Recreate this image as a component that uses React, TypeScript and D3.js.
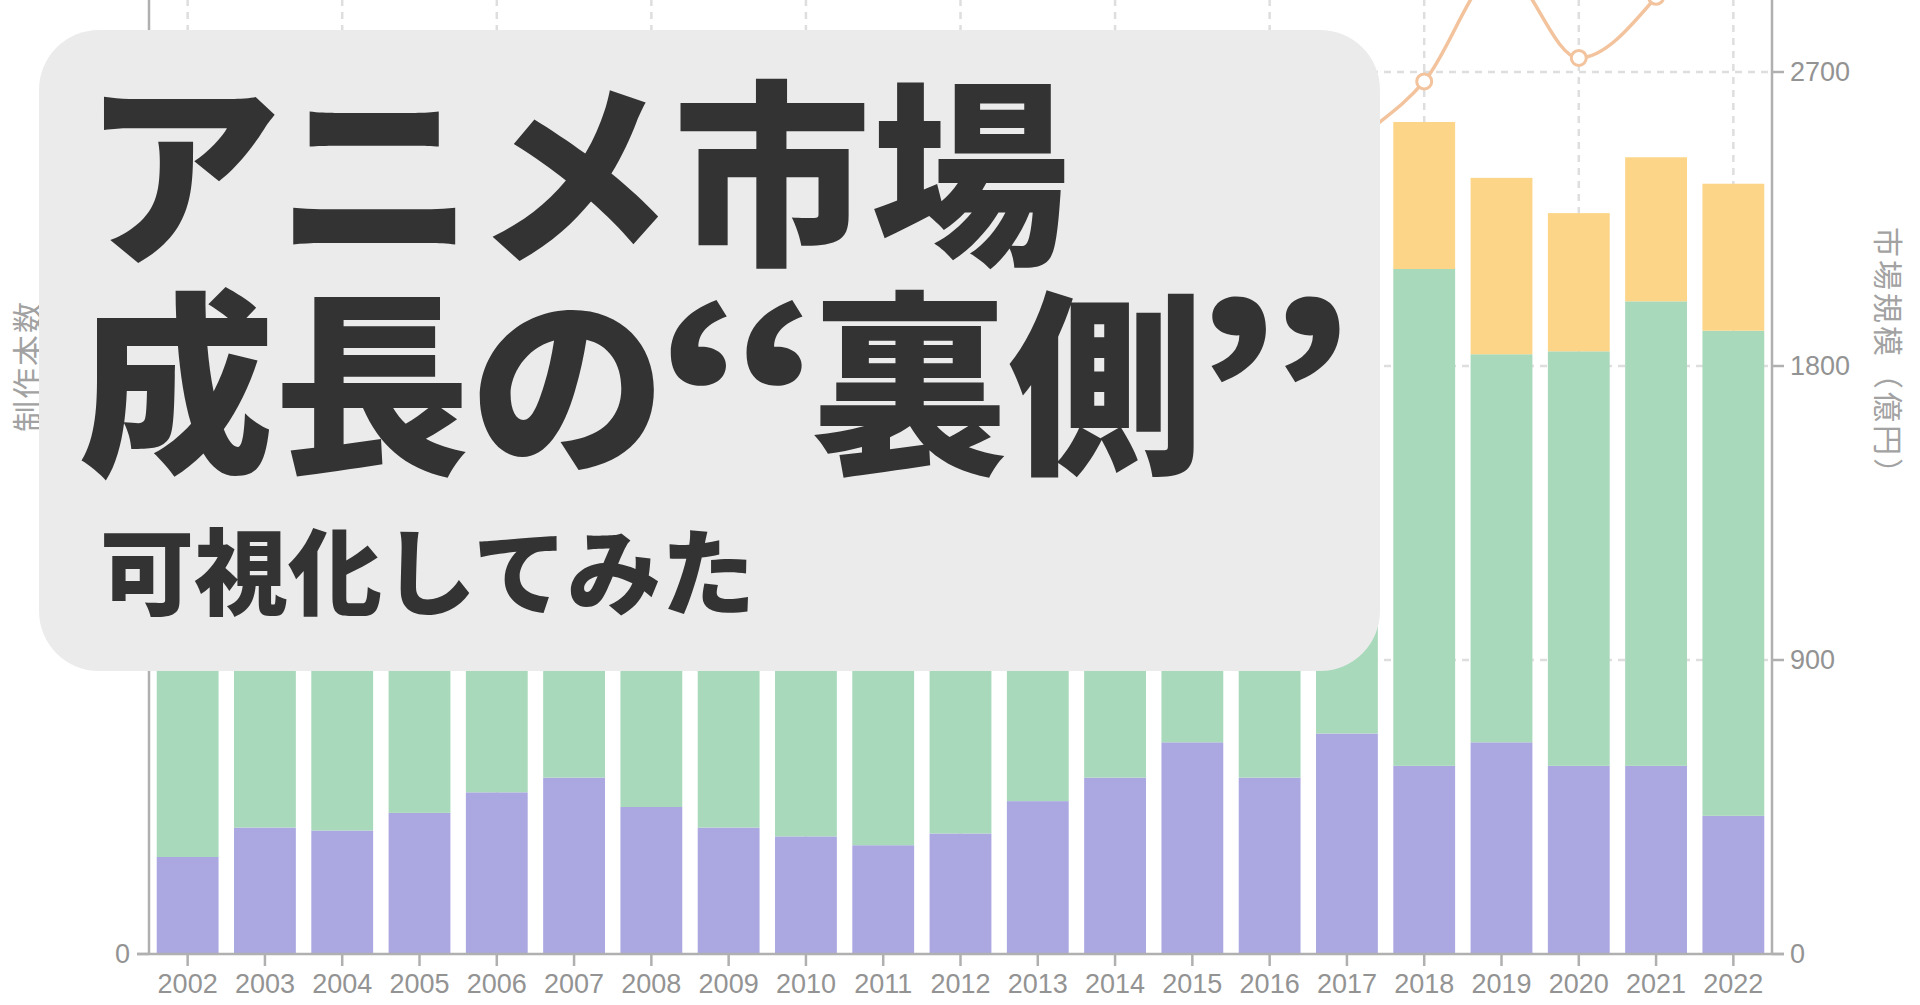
import React from "react";
import * as d3 from "d3";

// ---- data ----
const years = [
  "2002", "2003", "2004", "2005", "2006", "2007", "2008", "2009", "2010", "2011",
  "2012", "2013", "2014", "2015", "2016", "2017", "2018", "2019", "2020", "2021", "2022",
];
// bars (left axis, 制作本数)
const seriesPurple = [33, 43, 42, 48, 55, 60, 50, 43, 40, 37, 41, 52, 60, 72, 60, 75, 64, 72, 64, 64, 47];
const seriesGreen = [100, 105, 115, 120, 135, 140, 130, 125, 130, 140, 150, 150, 165, 165, 180, 175, 169, 132, 141, 158, 165];
const seriesYellow = [0, 0, 0, 0, 0, 0, 0, 0, 0, 0, 0, 0, 0, 0, 0, 0, 50, 60, 47, 49, 50];
// line (right axis, 市場規模 億円)
const marketSize = [1400, 1480, 1560, 1670, 1830, 1880, 1730, 1500, 1420, 1460, 1530, 1600, 1850, 2000, 2200, 2461, 2671, 3017, 2743, 2930, 3300];

const leftTicks = [0, 100, 200, 300, 400];
const rightTicks = [0, 900, 1800, 2700, 3600];
const gridYears = ["2002", "2004", "2006", "2008", "2010", "2012", "2014", "2016", "2018", "2020", "2022"];

const leftTitle = "制作本数";
const rightTitle = "市場規模（億円）";
const titleLine1 = "アニメ市場";
const titleLine2a = "成長の";
const titleLine2q1 = "“";
const titleLine2b = "裏側";
const titleLine2q2 = "”";
const titleLine3 = "可視化してみた";

const COLORS = {
  purple: "#aba8e1",
  green: "#a8d9bb",
  yellow: "#fdd588",
  line: "#f2c39c",
  grid: "#dedede",
  axis: "#b0b0b0",
  tick: "#939393",
  axisTitle: "#a2a2a2",
  panel: "#ebebeb",
  title: "#333333",
};

const W = 1920;
const H = 1005;
const PLOT = { left: 149, right: 1772, top: -222, bottom: 954 };

export default function App() {
  const x = d3
    .scaleBand<string>()
    .domain(years)
    .range([PLOT.left, PLOT.right])
    .paddingInner(0.2)
    .paddingOuter(0.1);
  const yL = d3.scaleLinear().domain([0, 400]).range([PLOT.bottom, PLOT.top]);
  const yR = d3.scaleLinear().domain([0, 3600]).range([PLOT.bottom, PLOT.top]);

  const rows = years.map((y, i) => ({
    year: y,
    purple: seriesPurple[i],
    green: seriesGreen[i],
    yellow: seriesYellow[i],
  }));
  const stacked = d3.stack<any>().keys(["purple", "green", "yellow"])(rows);
  const cx = (yr: string) => (x(yr) as number) + x.bandwidth() / 2;

  const lineGen = d3
    .line<number>()
    .x((_, i) => cx(years[i]))
    .y((d) => yR(d))
    .curve(d3.curveMonotoneX);

  const tickFont = "'Liberation Sans', Arial, sans-serif";
  const cjk = "'Noto Sans CJK JP', sans-serif";

  return (
    <div style={{ position: "fixed", left: 0, top: 0, width: W, height: H, background: "#fff" }}>
      <style>{`body{margin:0;background:#fff}`}</style>
      <svg width={W} height={H} viewBox={`0 0 ${W} ${H}`} style={{ display: "block", overflow: "hidden" }}>
        <rect x={0} y={0} width={W} height={H} fill="#ffffff" />
        {/* grid */}
        <g stroke={COLORS.grid} strokeWidth={2.5} strokeDasharray="7 6">
          {gridYears.map((yr) => (
            <line key={yr} x1={cx(yr)} x2={cx(yr)} y1={PLOT.top} y2={PLOT.bottom} />
          ))}
          {rightTicks.slice(1).map((t) => (
            <line key={t} x1={PLOT.left} x2={PLOT.right} y1={yR(t)} y2={yR(t)} />
          ))}
        </g>
        {/* bars */}
        {stacked.map((layer) => (
          <g key={layer.key} fill={(COLORS as any)[layer.key]}>
            {layer.map((d: any, i: number) =>
              d[1] - d[0] > 0 ? (
                <rect
                  key={i}
                  x={x(d.data.year)}
                  width={x.bandwidth()}
                  y={yL(d[1])}
                  height={yL(d[0]) - yL(d[1])}
                />
              ) : null
            )}
          </g>
        ))}
        {/* line */}
        <path d={lineGen(marketSize) || ""} fill="none" stroke={COLORS.line} strokeWidth={3.5} />
        {marketSize.map((v, i) => (
          <circle key={i} cx={cx(years[i])} cy={yR(v)} r={7.5} fill="#fff" stroke={COLORS.line} strokeWidth={3} />
        ))}
        {/* axes */}
        <g stroke={COLORS.axis} strokeWidth={2.5}>
          <line x1={PLOT.left} x2={PLOT.left} y1={PLOT.top} y2={PLOT.bottom} />
          <line x1={PLOT.right} x2={PLOT.right} y1={PLOT.top} y2={PLOT.bottom} />
          <line x1={PLOT.left - 12} x2={PLOT.right + 12} y1={PLOT.bottom} y2={PLOT.bottom} />
          {years.map((yr) => (
            <line key={yr} x1={cx(yr)} x2={cx(yr)} y1={PLOT.bottom} y2={PLOT.bottom + 12} />
          ))}
          {leftTicks.map((t) => (
            <line key={"l" + t} x1={PLOT.left - 12} x2={PLOT.left} y1={yL(t)} y2={yL(t)} />
          ))}
          {rightTicks.map((t) => (
            <line key={"r" + t} x1={PLOT.right} x2={PLOT.right + 12} y1={yR(t)} y2={yR(t)} />
          ))}
        </g>
        <g fontFamily={tickFont} fontSize={27} fill={COLORS.tick}>
          {years.map((yr) => (
            <text key={yr} x={cx(yr)} y={PLOT.bottom + 39} textAnchor="middle">
              {yr}
            </text>
          ))}
          {leftTicks
            .filter((t) => yL(t) > 20)
            .map((t) => (
              <text key={"l" + t} x={PLOT.left - 19} y={yL(t)} dy="0.35em" textAnchor="end">
                {t}
              </text>
            ))}
          {rightTicks
            .filter((t) => yR(t) > 20)
            .map((t) => (
              <text key={"r" + t} x={PLOT.right + 18} y={yR(t)} dy="0.35em" textAnchor="start">
                {t}
              </text>
            ))}
        </g>
        <text
          transform={`translate(25, 366) rotate(-90)`}
          textAnchor="middle"
          dominantBaseline="central"
          fontFamily={cjk}
          fontSize={31}
          letterSpacing={2}
          fill={COLORS.axisTitle}
        >
          {leftTitle}
        </text>
        <text
          transform={`translate(1890, 359) rotate(90)`}
          textAnchor="middle"
          dominantBaseline="central"
          fontFamily={cjk}
          fontSize={30}
          letterSpacing={3}
          fill={COLORS.axisTitle}
        >
          {rightTitle}
        </text>
        {/* title panel */}
        <rect x={39} y={30} width={1341} height={641} rx={60} ry={60} fill={COLORS.panel} />
        <g fontFamily={cjk} fontWeight={900} fill={COLORS.title}>
          <text x={83} y={249} fontSize={198}>
            {titleLine1}
          </text>
          <text x={78} y={458} fontSize={196}>
            {titleLine2a}
          </text>
          <text transform="translate(654, 465) scale(1.38, 1.08)" fontSize={196}>
            {titleLine2q1}
          </text>
          <text x={812} y={458} fontSize={196}>
            {titleLine2b}
          </text>
          <text transform="translate(1190, 465) scale(1.34, 1.08)" fontSize={196}>
            {titleLine2q2}
          </text>
          <text x={100} y={608} fontSize={94}>
            {titleLine3}
          </text>
        </g>
      </svg>
    </div>
  );
}
